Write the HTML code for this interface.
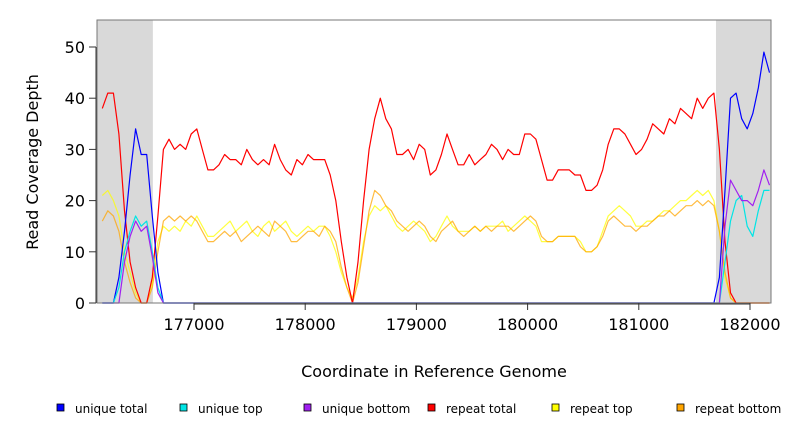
<!DOCTYPE html>
<html><head><meta charset="utf-8"><style>
body{margin:0;background:#fff;}
svg{display:block;font-family:"DejaVu Sans","Liberation Sans",sans-serif;}
</style></head><body>
<svg id="chart" width="792" height="432" viewBox="0 0 792 432">
<g id="bg"></g><g id="series"></g><g id="axes"></g><g id="legend"></g>
<text x="434" y="377" text-anchor="middle" font-size="16">Coordinate in Reference Genome</text>
<text x="0" y="0" transform="translate(38,162) rotate(-90)" text-anchor="middle" font-size="16">Read Coverage Depth</text>
</svg>
<script>
const start = 176150, step = 50;
const repeatTotal = [38,41,41,33,18,8,3,0,0,5,17,30,32,30,31,30,33,34,30,26,26,27,29,28,28,27,30,28,27,28,27,31,28,26,25,28,27,29,28,28,28,25,20,12,5,0,8,20,30,36,40,36,34,29,29,30,28,31,30,25,26,29,33,30,27,27,29,27,28,29,31,30,28,30,29,29,33,33,32,28,24,24,26,26,26,25,25,22,22,23,26,31,34,34,33,31,29,30,32,35,34,33,36,35,38,37,36,40,38,40,41,30,12,2,0,0,0,0,0,0,0];
const repeatTop = [21,22,20,17,10,6,2,0,0,4,12,15,14,15,14,16,15,17,15,13,13,14,15,16,14,15,16,14,13,15,16,14,15,16,14,13,14,15,14,15,15,13,10,6,3,1,5,12,17,19,18,19,17,15,14,15,16,15,14,12,13,15,17,15,14,14,14,15,14,15,15,15,16,14,15,16,17,16,15,12,12,12,13,13,13,13,12,10,10,11,14,17,18,19,18,17,15,15,16,16,17,18,18,19,20,20,21,22,21,22,20,14,5,1,0,0,0,0,0,0,0];
const repeatBottom = [16,18,17,14,8,4,1,0,0,3,10,16,17,16,17,16,17,16,14,12,12,13,14,13,14,12,13,14,15,14,13,16,15,14,12,12,13,14,14,13,15,14,12,7,3,0,4,11,18,22,21,19,18,16,15,14,15,16,15,13,12,14,15,16,14,13,14,15,14,15,14,15,15,15,14,15,16,17,16,13,12,12,13,13,13,13,11,10,10,11,13,16,17,16,15,15,14,15,15,16,17,17,18,17,18,19,19,20,19,20,19,14,6,1,0,0,0,0,0,0,0];
const uniqueTotal = [0,0,0,5,14,25,34,29,29,17,6,0,0,0,0,0,0,0,0,0,0,0,0,0,0,0,0,0,0,0,0,0,0,0,0,0,0,0,0,0,0,0,0,0,0,0,0,0,0,0,0,0,0,0,0,0,0,0,0,0,0,0,0,0,0,0,0,0,0,0,0,0,0,0,0,0,0,0,0,0,0,0,0,0,0,0,0,0,0,0,0,0,0,0,0,0,0,0,0,0,0,0,0,0,0,0,0,0,0,0,0,5,22,40,41,36,34,37,42,49,45];
const uniqueTop = [0,0,0,3,10,14,17,15,16,10,3,0,0,0,0,0,0,0,0,0,0,0,0,0,0,0,0,0,0,0,0,0,0,0,0,0,0,0,0,0,0,0,0,0,0,0,0,0,0,0,0,0,0,0,0,0,0,0,0,0,0,0,0,0,0,0,0,0,0,0,0,0,0,0,0,0,0,0,0,0,0,0,0,0,0,0,0,0,0,0,0,0,0,0,0,0,0,0,0,0,0,0,0,0,0,0,0,0,0,0,0,0,8,16,20,21,15,13,18,22,22];
const uniqueBottom = [0,0,0,0,8,13,16,14,15,9,2,0,0,0,0,0,0,0,0,0,0,0,0,0,0,0,0,0,0,0,0,0,0,0,0,0,0,0,0,0,0,0,0,0,0,0,0,0,0,0,0,0,0,0,0,0,0,0,0,0,0,0,0,0,0,0,0,0,0,0,0,0,0,0,0,0,0,0,0,0,0,0,0,0,0,0,0,0,0,0,0,0,0,0,0,0,0,0,0,0,0,0,0,0,0,0,0,0,0,0,0,0,15,24,22,20,20,19,22,26,23];
const xTicks = [177000,178000,179000,180000,181000,182000];
const yTicks = [0,10,20,30,40,50];
const shaded = [[176128,176630],[181694,182189]];
const seriesNames = ["unique total","unique top","unique bottom","repeat total","repeat top","repeat bottom"];
const seriesColors = ["#0000ff","#00e5e5","#a020f0","#ff0000","#ffff00","#ffa500"];

const NS="http://www.w3.org/2000/svg";
const X0=97,X1=771,Y0=303,YT=20;
const xs=c=>194+(c-177000)*0.1112;
const ys=v=>303-v*5.12;
function mk(tag,attrs,parent){const e=document.createElementNS(NS,tag);for(const k in attrs)e.setAttribute(k,attrs[k]);parent.appendChild(e);return e;}
const bg=document.getElementById('bg'),sg=document.getElementById('series'),ax=document.getElementById('axes'),lg=document.getElementById('legend');
shaded.forEach(([a,b])=>{const r=mk('rect',{x:Math.max(X0,xs(a)),y:YT,width:Math.min(X1,xs(b))-Math.max(X0,xs(a)),height:Y0-YT,fill:'#d9d9d9'},bg);

});
const order=[4,5,3,0,1,2];
const data=[uniqueTotal,uniqueTop,uniqueBottom,repeatTotal,repeatTop,repeatBottom];
const snames=['unique-total-line','unique-top-line','unique-bottom-line','repeat-total-line','repeat-top-line','repeat-bottom-line'];
order.forEach(i=>{const arr=data[i];let d='';arr.forEach((v,j)=>{const x=Math.min(X1,Math.max(X0,xs(start+j*step+25)));d+=(j?'L':'M')+x.toFixed(1)+','+ys(v).toFixed(1);});
const p=mk('path',{d:d,fill:'none',stroke:seriesColors[i],'stroke-width':1.2,'stroke-linejoin':'round','stroke-opacity':i>=4?0.75:1},sg);

});
const fr=mk('rect',{x:X0,y:YT,width:X1-X0,height:Y0-YT,fill:'none',stroke:'#777','stroke-width':1},ax);


mk('line',{x1:X0-1,y1:ys(0),x2:X0-1,y2:ys(50),stroke:'#333'},ax);
yTicks.forEach(v=>{mk('line',{x1:X0-8,x2:X0-1,y1:ys(v),y2:ys(v),stroke:'#333'},ax);
const t=mk('text',{x:X0-12,y:ys(v)+6,'text-anchor':'end','font-size':16,fill:'#000'},ax);t.textContent=v;

});
mk('line',{x1:xs(177000),x2:xs(182000),y1:Y0+1,y2:Y0+1,stroke:'#333'},ax);
xTicks.forEach(v=>{mk('line',{x1:xs(v),x2:xs(v),y1:Y0,y2:Y0+7,stroke:'#333'},ax);
const t=mk('text',{x:xs(v),y:Y0+27,'text-anchor':'middle','font-size':16,fill:'#000'},ax);t.textContent=v;

});
const lx=[60,183,307,431,555,680];
seriesNames.forEach((n,i)=>{const r=mk('rect',{x:lx[i]-3,y:404,width:7,height:7,fill:seriesColors[i],stroke:'#000','stroke-width':0.8},lg);


const t=mk('text',{x:lx[i]+15,y:413,'font-size':12,fill:'#000'},lg);t.textContent=n;

});
</script>
</body></html>
